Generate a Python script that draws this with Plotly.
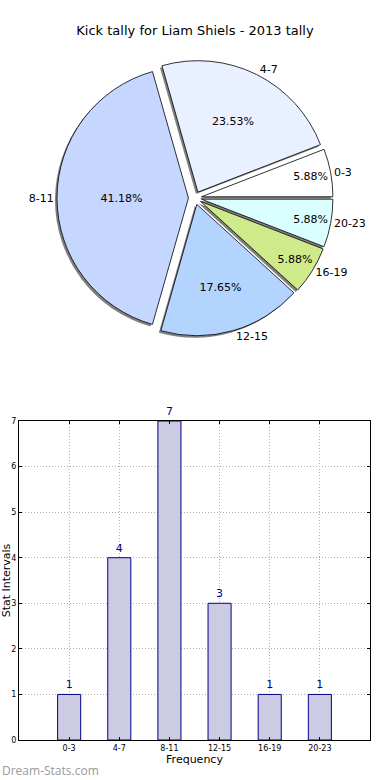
import plotly.graph_objects as go

# ---- data ----
categories = ["0-3", "4-7", "8-11", "12-15", "16-19", "20-23"]
counts = [1, 4, 7, 3, 1, 1]
pie_colors = ["#ffffff", "#e9f0ff", "#c5d6ff", "#b3d4ff", "#cfea8a", "#d9ffff"]
title_text = "Kick tally for Liam Shiels - 2013 tally"
x_label = "Frequency"
y_label = "Stat Intervals"
y_ticks = [0, 1, 2, 3, 4, 5, 6, 7]

W, H = 390, 780
FONT = "DejaVu Sans"

# pie geometry (pixels)
cx, cy, half = 195, 198, 138
def dom(dx=0, dy=0):
    return dict(x=[(cx - half + dx) / W, (cx + half + dx) / W],
                y=[1 - (cy + half + dy) / H, 1 - (cy - half + dy) / H])

pulls = [0.05] * len(categories)
# first wedge starts at 3 o'clock, going counter-clockwise
start_rot = 90 - 360 * counts[0] / sum(counts)

fig = go.Figure()

# shadow
fig.add_trace(go.Pie(
    labels=categories, values=counts, sort=False, direction="counterclockwise",
    rotation=start_rot, pull=pulls, domain=dom(-2, 2),
    marker=dict(colors=["#808080"] * len(categories), line=dict(width=0)),
    textinfo="none", hoverinfo="skip", showlegend=False,
))
# main pie with outside labels
fig.add_trace(go.Pie(
    labels=categories, values=counts, sort=False, direction="counterclockwise",
    rotation=start_rot, pull=pulls, domain=dom(),
    marker=dict(colors=pie_colors, line=dict(color="black", width=0.8)),
    texttemplate="%{label}", textposition="outside",
    textfont=dict(family=FONT, size=11, color="black"),
    showlegend=False,
))
# percent overlay
fig.add_trace(go.Pie(
    labels=categories, values=counts, sort=False, direction="counterclockwise",
    rotation=start_rot, pull=pulls, domain=dom(),
    marker=dict(colors=["rgba(0,0,0,0)"] * len(categories), line=dict(width=0)),
    texttemplate="%{percent:.2%}", textposition="inside",
    insidetextorientation="horizontal",
    textfont=dict(family=FONT, size=11, color="black"),
    hoverinfo="skip", showlegend=False,
))

# bar chart
fig.add_trace(go.Bar(
    x=list(range(len(categories))), y=counts, width=0.46,
    marker=dict(color="#cbcbe3", line=dict(color="#00008b", width=1)),
    text=[str(c) for c in counts], textposition="outside",
    textfont=dict(family=FONT, size=11, color="#00008b"),
    cliponaxis=False, showlegend=False, xaxis="x", yaxis="y",
))

axis_common = dict(showline=True, linecolor="black", linewidth=1, mirror="ticks",
                   ticks="inside", ticklen=3, tickcolor="black",
                   showgrid=True, gridcolor="#b0b0b0", griddash="1px,2px", gridwidth=1,
                   zeroline=False, automargin=False,
                   tickfont=dict(family=FONT, size=8, color="black"))

fig.update_layout(
    width=W, height=H, margin=dict(l=0, r=0, t=0, b=0, autoexpand=False),
    paper_bgcolor="white", plot_bgcolor="white",
    font=dict(family=FONT, color="black"),
    title=dict(text=title_text, x=0.5, xanchor="center", y=1 - 30 / H, yanchor="middle",
               font=dict(family=FONT, size=13, color="black")),
    xaxis=dict(domain=[19 / W, 370 / W], range=[-1, 6],
               tickmode="array", tickvals=list(range(len(categories))), ticktext=categories,
               title=dict(text=x_label, font=dict(family=FONT, size=11), standoff=2),
               **axis_common),
    yaxis=dict(domain=[1 - 740 / H, 1 - 421 / H], range=[0, 7],
               tickmode="array", tickvals=y_ticks,
               title=dict(text=y_label, font=dict(family=FONT, size=11), standoff=4),
               **axis_common),
    annotations=[dict(text="Dream-Stats.com", x=0, y=1 - 770 / H, xref="paper", yref="paper",
                      xanchor="left", yanchor="middle", showarrow=False,
                      font=dict(family="Open Sans", size=12, color="#999999"))],
)

fig.write_html("out.html", config={"displayModeBar": False},
               post_script="document.body.style.margin='0';")
